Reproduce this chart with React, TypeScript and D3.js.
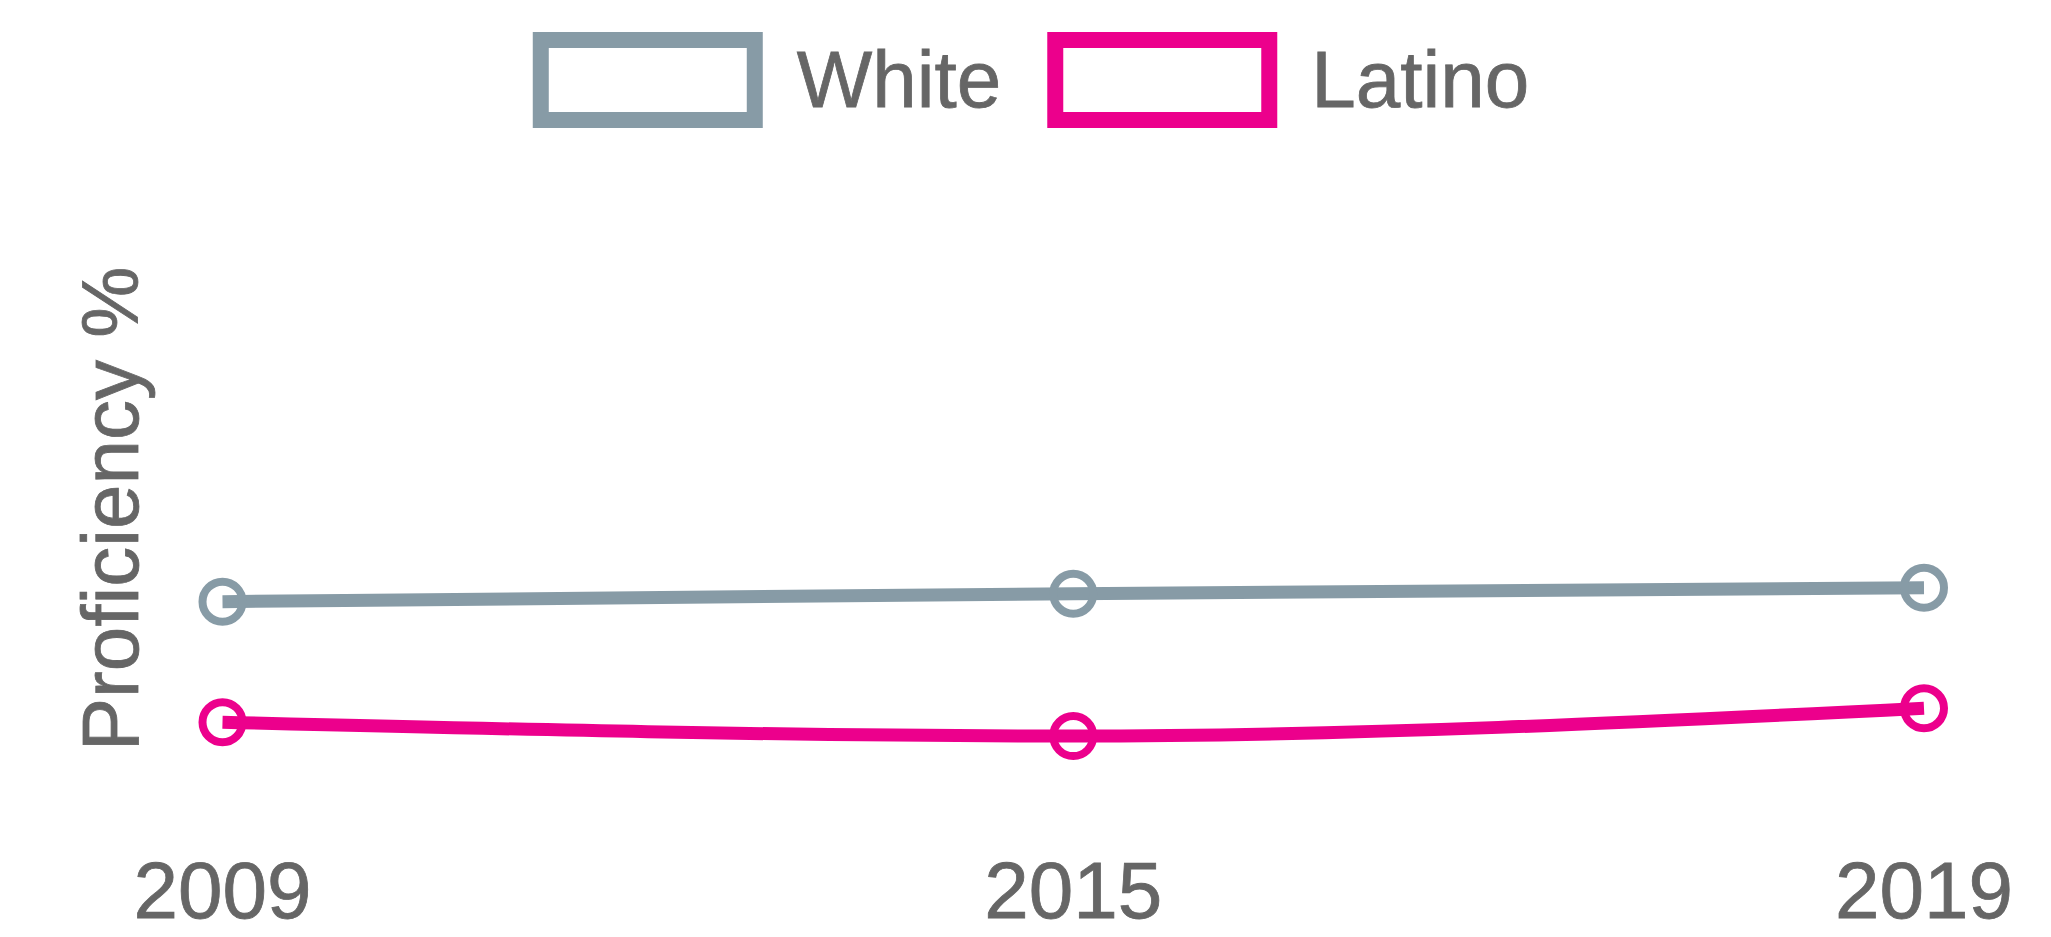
import { useMemo } from 'react';
import * as d3 from 'd3';

// chart data
const years = ['2009', '2015', '2019'];
const whiteValues = [36.0, 37.2, 38.1];
const latinoValues = [17.8, 15.7, 19.9];
const seriesNames = ['White', 'Latino'];
const seriesColors = ['#879BA6', '#EC008C'];
const yAxisLabel = 'Proficiency %';

const WIDTH = 2051;
const HEIGHT = 937;
const FONT = '"Liberation Sans", Arial, Helvetica, sans-serif';
const TEXT_COLOR = '#666666';

// legend text widths (Arial metrics at 80px)
const measure = (txt: string, size: number) => {
  const canvas = document.createElement('canvas');
  const ctx = canvas.getContext('2d');
  if (!ctx) return txt.length * size * 0.55;
  ctx.font = `${size}px ${FONT}`;
  return ctx.measureText(txt).width;
};

export default function App() {
  const dims = useMemo(
    () => ({
      top: 178,
      bottom: 840,
      left: 222.5,
      right: 1924,
      fontSize: 80,
    }),
    [],
  );

  const xScale = useMemo(
    () => d3.scalePoint<string>().domain(years).range([dims.left, dims.right]),
    [dims],
  );
  const yScale = useMemo(
    () => d3.scaleLinear().domain([0, 100]).range([dims.bottom, dims.top]),
    [dims],
  );

  const lineGenerator = d3
    .line<number>()
    .x((_, i) => xScale(years[i]) as number)
    .y((d) => yScale(d))
    .curve(d3.curveMonotoneX);

  const series = [whiteValues, latinoValues];

  // legend layout: box, gap, label, gap between items
  const boxW = 214;
  const boxH = 80;
  const boxStroke = 16;
  const labelGap = 42; // from box stroke centre to label start
  const itemGap = 46; // from label end to next box outer edge
  const legendCenter = 1031;
  const labelWidths = seriesNames.map((n) => measure(n, dims.fontSize));
  // width of an item measured from box outer-left edge to label end
  const itemWidths = labelWidths.map((w) => boxStroke / 2 + boxW + labelGap + w);
  const totalLegend = d3.sum(itemWidths) + itemGap * (seriesNames.length - 1);
  let cursor = legendCenter - totalLegend / 2;
  const legendItems = seriesNames.map((name, i) => {
    const item = { name, color: seriesColors[i], x: cursor + boxStroke / 2 };
    cursor += itemWidths[i] + itemGap;
    return item;
  });

  const textProps = {
    fontSize: dims.fontSize,
    fill: TEXT_COLOR,
    stroke: TEXT_COLOR,
    strokeWidth: 0.8,
  };

  return (
    <>
      <style>{'body{margin:0;overflow:hidden;background:#fff}'}</style>
      <svg width={WIDTH} height={HEIGHT} style={{ display: 'block' }} fontFamily={FONT}>
        <rect width={WIDTH} height={HEIGHT} fill="#ffffff" />

        {/* Legend */}
        <g className="legend">
          {legendItems.map((d) => (
            <g key={d.name}>
              <rect
                x={d.x}
                y={40}
                width={boxW}
                height={boxH}
                fill="#ffffff"
                stroke={d.color}
                strokeWidth={boxStroke}
              />
              <text x={d.x + boxW + labelGap} y={107} {...textProps}>
                {d.name}
              </text>
            </g>
          ))}
        </g>

        {/* Y axis label */}
        <text
          transform={`translate(138, ${(dims.top + dims.bottom) / 2}) rotate(-90)`}
          textAnchor="middle"
          {...textProps}
        >
          {yAxisLabel}
        </text>

        {/* X tick labels */}
        <g className="xAxis">
          {years.map((yr) => (
            <text key={yr} x={xScale(yr)} y={918} textAnchor="middle" {...textProps}>
              {yr}
            </text>
          ))}
        </g>

        {/* Lines and points */}
        {series.map((values, si) => (
          <g key={seriesNames[si]}>
            <path
              d={lineGenerator(values) ?? ''}
              fill="none"
              stroke={seriesColors[si]}
              strokeWidth={13}
            />
            {values.map((v, i) => (
              <circle
                key={years[i]}
                cx={xScale(years[i])}
                cy={yScale(v)}
                r={20}
                fill="none"
                stroke={seriesColors[si]}
                strokeWidth={8}
              />
            ))}
          </g>
        ))}
      </svg>
    </>
  );
}
